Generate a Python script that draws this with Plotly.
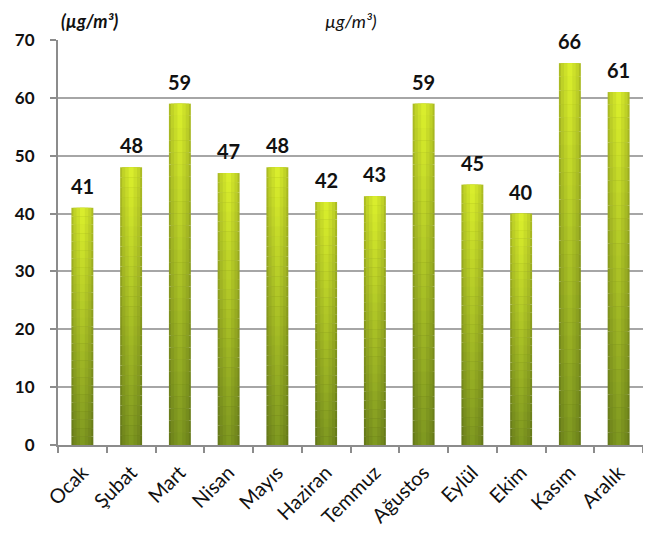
"""Monthly concentration bar chart."""

import plotly.graph_objects as go

months = ["Ocak", "Şubat", "Mart", "Nisan", "Mayıs", "Haziran",
          "Temmuz", "Ağustos", "Eylül", "Ekim", "Kasım", "Aralık"]
values = [41, 48, 59, 47, 48, 42, 43, 59, 45, 40, 66, 61]

FONT = "Lato, 'Open Sans', sans-serif"
N_SEG = 28
BOTTOM = (0x76, 0x8e, 0x1e)
TOP = (0xcf, 0xe2, 0x2a)


def mix(a, b, t):
    return tuple(round(a[i] + (b[i] - a[i]) * t) for i in range(3))


def rgb(c, k=1.0):
    return "rgb({},{},{})".format(*(min(255, round(v * k)) for v in c))


# stacked slices give the vertical gradient, nested widths the cylinder shading
fig = go.Figure()
for s in range(N_SEG):
    base_color = mix(BOTTOM, TOP, (s + 0.5) / N_SEG)
    bases = [v * s / N_SEG for v in values]
    heights = [v / N_SEG for v in values]
    for width, k in ((0.45, 0.84), (0.37, 0.94), (0.24, 1.0), (0.10, 1.06)):
        fig.add_trace(go.Bar(
            x=months,
            y=heights,
            base=bases,
            width=width,
            marker={"color": rgb(base_color, k), "line": {"width": 0}},
            hoverinfo="skip",
            showlegend=False,
        ))

for month, value in zip(months, values):
    fig.add_annotation(
        x=month, y=value, text=f"<b>{value}</b>", showarrow=False,
        yanchor="bottom", yshift=8,
        font={"family": FONT, "size": 20, "color": "#111111"},
    )

# page body adds 8px around the figure, so the size is trimmed to fit
fig.update_layout(
    width=643,
    height=530,
    barmode="overlay",
    plot_bgcolor="white",
    paper_bgcolor="white",
    margin={"l": 50, "r": 8, "t": 32, "b": 93, "autoexpand": False},
    font={"family": FONT, "color": "#111111"},
)
fig.update_xaxes(
    automargin=False,
    showline=True,
    linecolor="#8c8c8c",
    linewidth=2,
    ticks="outside",
    tickson="boundaries",
    ticklen=6,
    tickcolor="#8c8c8c",
    tickwidth=2,
    tickangle=-45,
    ticklabelstandoff=6,
    tickfont={"size": 20, "color": "#111111"},
    showgrid=False,
)
fig.update_yaxes(
    automargin=False,
    range=[0, 70],
    dtick=10,
    showline=True,
    linecolor="#8c8c8c",
    linewidth=2,
    ticks="outside",
    ticklen=6,
    tickcolor="#8c8c8c",
    tickwidth=2,
    ticklabelstandoff=12,
    showgrid=True,
    gridcolor="#a6a6a6",
    gridwidth=1.5,
    zeroline=False,
    tickfont={"size": 17, "color": "#111111", "weight": "bold"},
)

fig.add_annotation(
    text="<b><i>(µg/m³)</i></b>", xref="paper", yref="paper",
    x=0.055, y=1.047, xanchor="center", yanchor="middle",
    showarrow=False, font={"size": 18, "family": FONT},
)
fig.add_annotation(
    text="<i>µg/m³)</i>", xref="paper", yref="paper",
    x=0.5, y=1.0, yshift=32, xanchor="center", yanchor="top",
    showarrow=False, font={"size": 18, "family": FONT},
)

fig.write_html("out.html")
